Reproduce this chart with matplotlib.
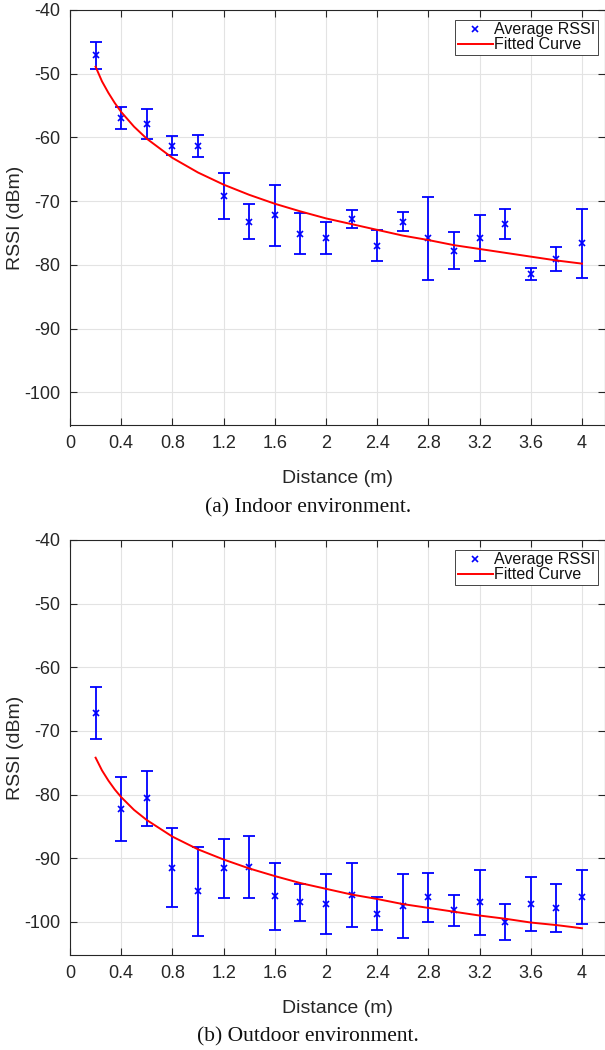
import numpy as np
import matplotlib
matplotlib.use("Agg")
import matplotlib.pyplot as plt

plt.rcParams['font.family'] = ['Liberation Sans', 'DejaVu Sans']
plt.rcParams['axes.unicode_minus'] = False

# distances of the measurement points (m)
distance = [0.2, 0.4, 0.6, 0.8, 1.0, 1.2, 1.4, 1.6, 1.8, 2.0,
            2.2, 2.4, 2.6, 2.8, 3.0, 3.2, 3.4, 3.6, 3.8, 4.0]

# indoor: average RSSI and error (dBm)
indoor_rssi = [-47.1, -56.9, -57.9, -61.3, -61.3, -69.2, -73.2, -72.2, -75.1, -75.8,
               -72.8, -77.0, -73.2, -75.8, -77.8, -75.8, -73.6, -81.4, -79.1, -76.6]
indoor_err = [2.1, 1.7, 2.3, 1.5, 1.7, 3.6, 2.7, 4.8, 3.2, 2.5,
              1.35, 2.4, 1.55, 6.5, 2.9, 3.6, 2.35, 0.9, 1.9, 5.4]

# outdoor: average RSSI and error (dBm)
outdoor_rssi = [-67.2, -82.3, -80.6, -91.5, -95.2, -91.6, -91.4, -96.0, -96.9, -97.2,
                -95.8, -98.7, -97.5, -96.1, -98.2, -96.9, -100.0, -97.2, -97.8, -96.1]
outdoor_err = [4.1, 5.0, 4.3, 6.2, 7.0, 4.7, 4.9, 5.2, 2.9, 4.65,
               5.0, 2.55, 5.1, 3.85, 2.4, 5.1, 2.8, 4.3, 3.8, 4.3]

# fitted curves
fit_distance = [0.2, 0.25, 0.3, 0.35, 0.4, 0.5, 0.6, 0.8, 1.0, 1.2, 1.4, 1.6, 1.8, 2.0,
                2.2, 2.4, 2.6, 2.8, 3.0, 3.2, 3.4, 3.6, 3.8, 4.0]
indoor_fit = [-48.9, -51.2, -53.0, -54.6, -56.0, -58.3, -60.2, -63.2, -65.5, -67.4, -69.0,
              -70.4, -71.6, -72.7, -73.6, -74.5, -75.4, -76.1, -76.9, -77.5, -78.1,
              -78.7, -79.3, -79.8]
outdoor_fit = [-74.2, -76.2, -77.8, -79.2, -80.4, -82.4, -84.0, -86.6, -88.6, -90.2, -91.6,
               -92.8, -93.9, -94.8, -95.7, -96.4, -97.2, -97.8, -98.4, -99.0, -99.5,
               -100.1, -100.5, -101.0]

x_ticks = [0, 0.4, 0.8, 1.2, 1.6, 2, 2.4, 2.8, 3.2, 3.6, 4]
x_ticklabels = ['0', '0.4', '0.8', '1.2', '1.6', '2', '2.4', '2.8', '3.2', '3.6', '4']
y_ticks = [-100, -90, -80, -70, -60, -50, -40]

captions = ['(a) Indoor environment.', '(b) Outdoor environment.']

W, H = 605, 1050
fig = plt.figure(figsize=(W / 100, H / 100), dpi=100)
txt = '#262626'


def draw(ax, rssi, err, fit):
    ax.errorbar(distance, rssi, yerr=err, fmt='none', ecolor='#0000ff',
                elinewidth=1.3, capsize=4, capthick=1.3, zorder=3)
    ax.plot(distance, rssi, 'x', color='#0000ff', ms=4.5, mew=1.2,
            label='Average RSSI', zorder=4)
    ax.plot(fit_distance, fit, '-', color='#ff0000', lw=1.4,
            label='Fitted Curve', zorder=5)
    ax.set_xlim(0, 4.18)
    ax.set_ylim(-105.2, -40)
    ax.set_xticks(x_ticks)
    ax.set_xticklabels(x_ticklabels)
    ax.set_yticks(y_ticks)
    ax.grid(True, color='#e3e3e3', lw=0.8)
    ax.set_axisbelow(True)
    ax.tick_params(direction='in', length=5, width=0.8, top=True, right=True,
                   labelsize=13, colors=txt, pad=7)
    for s in ax.spines.values():
        s.set_color(txt)
        s.set_linewidth(0.8)
    ax.set_xlabel('Distance (m)', fontsize=14, color=txt, labelpad=13)
    ax.set_ylabel('RSSI (dBm)', fontsize=14, color=txt)
    ax.yaxis.set_label_coords(-46 / 535, 0.5)
    leg = ax.legend(loc='upper right', bbox_to_anchor=(0.987, 0.976),
                    borderaxespad=0, fontsize=11.5, frameon=True, fancybox=False,
                    framealpha=1, edgecolor=txt, borderpad=0.15, labelspacing=0.0,
                    handlelength=2.2, handletextpad=0.1)
    leg.get_frame().set_linewidth(0.6)
    for t in leg.get_texts():
        t.set_color('#111111')


ax1 = fig.add_axes([70 / W, 1 - 425.5 / H, 535 / W, 415.5 / H])
draw(ax1, indoor_rssi, indoor_err, indoor_fit)
ax2 = fig.add_axes([70 / W, 1 - 955 / H, 535 / W, 415 / H])
draw(ax2, outdoor_rssi, outdoor_err, outdoor_fit)

fig.text(308 / W, 1 - 508 / H, captions[0], ha='center', va='center',
         fontsize=15.5, family=['Liberation Serif', 'DejaVu Serif'], color='#111111')
fig.text(308 / W, 1 - 1037 / H, captions[1], ha='center', va='center',
         fontsize=15.5, family=['Liberation Serif', 'DejaVu Serif'], color='#111111')

fig.savefig('out.png', dpi=100)
